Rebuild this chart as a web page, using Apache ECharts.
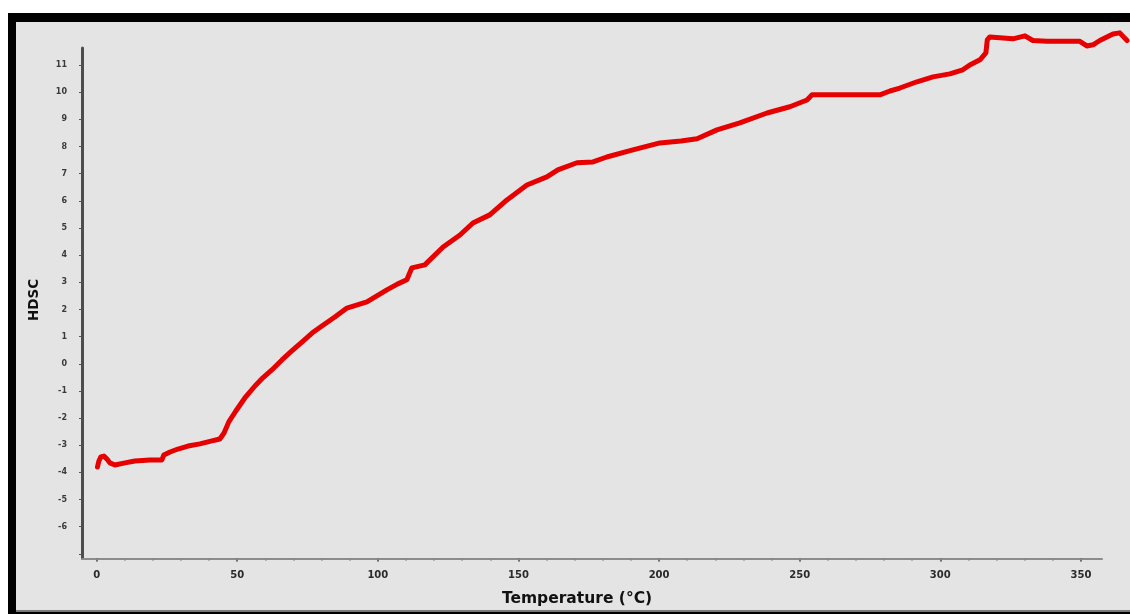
<!DOCTYPE html>
<html>
<head>
<meta charset="utf-8">
<script src="https://cdn.jsdelivr.net/npm/echarts@6/dist/echarts.min.js"></script>
<style>
html,body{margin:0;padding:0;background:#fff;}
#chart{width:1130px;height:614px;}
</style>
</head>
<body>
<div id="chart"></div>
<script>
// Temperature (°C)
const temperature = [0.3,0.8,1.5,2.6,3.7,4.7,6.5,10.1,13.6,18.9,23.2,23.9,26.1,28.9,32.5,36.7,41.0,43.8,45.3,47.0,49.5,52.7,56.3,59.1,62.3,65.9,69.4,73.0,76.6,80.1,84.7,89.0,96.1,103.2,107.1,110.3,112.1,116.7,123.2,129.2,133.8,139.8,145.9,153.0,160.1,164.0,170.8,176.5,181.4,190.7,200.3,207.8,213.5,220.6,228.7,238.4,246.5,252.6,254.4,264.3,278.5,282.1,285.6,291.7,297.4,303.4,308.0,310.5,314.1,316.2,316.7,317.6,325.8,330.1,332.9,337.9,349.6,352.1,354.3,356.7,361.4,363.8,366.4];
// HDSC values
const hdsc = [-3.80,-3.58,-3.43,-3.40,-3.51,-3.65,-3.73,-3.65,-3.58,-3.54,-3.54,-3.36,-3.25,-3.14,-3.03,-2.95,-2.84,-2.77,-2.55,-2.14,-1.74,-1.26,-0.82,-0.52,-0.23,0.14,0.47,0.80,1.13,1.39,1.72,2.05,2.28,2.72,2.94,3.09,3.53,3.64,4.30,4.74,5.18,5.48,6.03,6.58,6.88,7.14,7.40,7.43,7.61,7.87,8.13,8.20,8.28,8.61,8.87,9.23,9.46,9.71,9.90,9.90,9.90,10.04,10.15,10.38,10.56,10.67,10.82,11.00,11.19,11.44,11.92,12.03,11.96,12.07,11.90,11.87,11.87,11.70,11.74,11.90,12.14,12.18,11.90];

const xTickLabels = [0,50,100,150,200,250,300,350];
const xMinorTicks = [0,10,20,30,40,50,60,70,80,90,100,110,120,130,140,150,160,170,180,190,200,210,220,230,240,250,260,270,280,290,300,310,320,330,340,350];
const yTickLabels = [-6,-5,-4,-3,-2,-1,0,1,2,3,4,5,6,7,8,9,10,11];
const yTicks = [-7,-6,-5,-4,-3,-2,-1,0,1,2,3,4,5,6,7,8,9,10,11];

// visible axis ranges (grid 0)
const xMin = -5.2, xMax = 357.5, yMin = -7.17, yMax = 11.63;
// same scale, larger plotting area for the curve that runs past the axes (grid 1)
const xMaxWide = 367.45, yMaxWide = 12.47;

const chart = echarts.init(document.getElementById('chart'), null, {renderer: 'canvas'});
const data = temperature.map((t, i) => [t, hdsc[i]]);

chart.setOption({
  backgroundColor: '#ffffff',
  animation: false,
  graphic: [
    {type: 'rect', z: -100, shape: {x: 8, y: 13, width: 1122, height: 601}, style: {fill: '#000000'}},
    {type: 'rect', z: -99, shape: {x: 16, y: 22, width: 1114, height: 589}, style: {fill: '#e4e4e4'}},
    {type: 'rect', z: -98, shape: {x: 16, y: 610, width: 1114, height: 2}, style: {fill: '#7a7a7a'}},
    {type: 'text', x: 577, y: 599, z: 10,
      style: {text: 'Temperature (°C)', font: 'bold 15.5px "DejaVu Sans"', fill: '#111', align: 'center', verticalAlign: 'middle'}},
    {type: 'text', x: 34, y: 300, rotation: Math.PI / 2, z: 10,
      style: {text: 'HDSC', font: 'bold 13.5px "DejaVu Sans"', fill: '#111', align: 'center', verticalAlign: 'middle'}}
  ],
  grid: [
    {left: 82, right: 28, top: 48, bottom: 55.5, containLabel: false},
    {left: 82, right: 0, top: 25, bottom: 55.5, containLabel: false}
  ],
  xAxis: [
    {
      type: 'value', gridIndex: 0, min: xMin, max: xMax, position: 'bottom',
      splitLine: {show: false},
      axisLine: {show: true, onZero: false, lineStyle: {color: '#8c8c8c', width: 2}},
      axisTick: {show: true, customValues: xTickLabels, length: 3, inside: false, lineStyle: {color: '#555', width: 2}},
      axisLabel: {show: true, customValues: xTickLabels, margin: 12, fontSize: 10, fontWeight: 'bold', color: '#2a2a2a', fontFamily: 'DejaVu Sans'}
    },
    {
      type: 'value', gridIndex: 0, min: xMin, max: xMax, position: 'bottom',
      splitLine: {show: false},
      axisLine: {show: false, onZero: false},
      axisTick: {show: true, customValues: xMinorTicks, length: 2, inside: false, lineStyle: {color: '#888', width: 2}},
      axisLabel: {show: false}
    },
    {
      type: 'value', gridIndex: 1, min: xMin, max: xMaxWide, show: false,
      axisLine: {onZero: false}, splitLine: {show: false}
    }
  ],
  yAxis: [
    {
      type: 'value', gridIndex: 0, min: yMin, max: yMax,
      splitLine: {show: false},
      axisLine: {show: true, onZero: false, lineStyle: {color: '#4d4d4d', width: 3}},
      axisTick: {show: true, customValues: yTicks, length: 3, lineStyle: {color: '#555', width: 1}},
      axisLabel: {show: true, customValues: yTickLabels, margin: 15, fontSize: 8, fontWeight: 'bold', color: '#3a3a3a', fontFamily: 'DejaVu Sans'}
    },
    {
      type: 'value', gridIndex: 1, min: yMin, max: yMaxWide, show: false,
      axisLine: {onZero: false}, splitLine: {show: false}
    }
  ],
  series: [{
    type: 'line',
    xAxisIndex: 2,
    yAxisIndex: 1,
    data: data,
    showSymbol: false,
    clip: false,
    smooth: false,
    lineStyle: {color: '#e60000', width: 5, join: 'round', cap: 'round'},
    z: 5
  }]
});
</script>
</body>
</html>
